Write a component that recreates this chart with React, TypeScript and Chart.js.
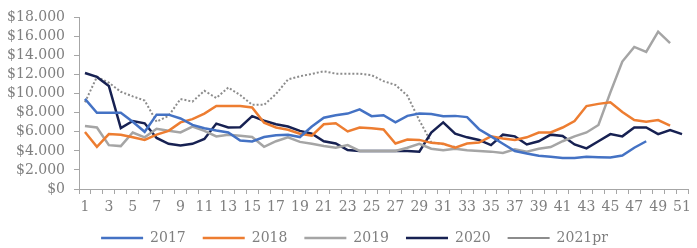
import React, { useEffect, useRef } from "react";
import { Chart, registerables } from "chart.js";

Chart.register(...registerables);

const weeks: string[] = Array.from({ length: 51 }, (_, i) => String(i + 1));

const w2017: number[] = [
  9450, 8000, 8000, 8000, 7060, 6000, 7800, 7800, 7400, 6720,
  6380, 6140, 5935, 5080, 4980, 5450, 5630, 5700, 5450, 6550,
  7470, 7740, 7910, 8360, 7640, 7740, 6990, 7670, 7910, 7870,
  7640, 7670, 7540, 6270, 5520, 4740, 3990, 3720, 3480, 3380,
  3240, 3240, 3380, 3340, 3310, 3510, 4330, 5010,
];

const w2018: number[] = [
  5970, 4430, 5760, 5700, 5420, 5150, 5700, 6100, 6990, 7330,
  7910, 8700, 8700, 8700, 8560, 6960, 6450, 6210, 5800, 5590,
  6790, 6890, 6040, 6450, 6380, 6240, 4770, 5180, 5150, 4840,
  4740, 4330, 4770, 4870, 5520, 5290, 5150, 5420, 5930, 5930,
  6450, 7130, 8700, 8930, 9100, 8080, 7230, 7060, 7230, 6650,
];

const w2019: number[] = [
  6620, 6450, 4600, 4500, 5930, 5420, 6310, 6100, 5930, 6550,
  6100, 5520, 5700, 5590, 5450, 4430, 5010, 5420, 4940, 4740,
  4500, 4330, 4600, 3990, 3990, 3990, 3990, 4330, 4740, 4230,
  4060, 4230, 4060, 3990, 3920, 3780, 4160, 3920, 4230, 4400,
  5010, 5520, 5930, 6720, 10130, 13370, 14900, 14390, 16500, 15310,
];

const w2020: number[] = [
  12170, 11760, 10810, 6380, 7130, 6890, 5350, 4740, 4570, 4740,
  5250, 6860, 6450, 6480, 7640, 7160, 6790, 6550, 6100, 5800,
  5010, 4770, 4090, 3990, 3990, 3990, 3990, 3990, 3920, 5930,
  6990, 5800, 5420, 5150, 4600, 5700, 5520, 4670, 5010, 5700,
  5560, 4670, 4260, 5010, 5760, 5520, 6450, 6450, 5760, 6170, 5760,
];

const w2021pr: number[] = [
  9100, 11760, 11150, 10200, 9720, 9280, 7060, 7670, 9440, 9170,
  10300, 9550, 10640, 9850, 8830, 8830, 9960, 11490, 11830, 12070,
  12350, 12100, 12100, 12100, 11940, 11320, 10910, 9790, 7200, 4900,
  4700, 4400,
];

const yTicks: number[] = [0, 2000, 4000, 6000, 8000, 10000, 12000, 14000, 16000, 18000];

const fmt = (v: number) => "$" + String(v).replace(/\B(?=(\d{3})+(?!\d))/g, ".");

const shiftLegend = {
  id: "shiftLegend",
  afterLayout(chart: any) {
    if (chart.legend) {
      chart.legend.left += 7;
      chart.legend.right += 7;
    }
  },
};

export default function App() {
  const ref = useRef<HTMLCanvasElement | null>(null);

  useEffect(() => {
    if (!ref.current) return;
    const axisGray = "#a6a6a6";
    const textGray = "#7f7f7f";
    const chart = new Chart(ref.current, {
      type: "line",
      data: {
        labels: weeks,
        datasets: [
          { label: "2017", data: w2017, borderColor: "#4472c4", backgroundColor: "#4472c4", borderWidth: 2.5 },
          { label: "2018", data: w2018, borderColor: "#ed7d31", backgroundColor: "#ed7d31", borderWidth: 2.5 },
          { label: "2019", data: w2019, borderColor: "#a5a5a5", backgroundColor: "#a5a5a5", borderWidth: 2.5 },
          { label: "2020", data: w2020, borderColor: "#172152", backgroundColor: "#172152", borderWidth: 2.5 },
          { label: "2021pr", data: w2021pr, borderColor: "#8c8c8c", backgroundColor: "#8c8c8c", borderWidth: 2, borderDash: [2, 2] },
        ],
      },
      plugins: [shiftLegend],
      options: {
        animation: false,
        responsive: true,
        maintainAspectRatio: false,
        elements: { point: { radius: 0, hoverRadius: 0 }, line: { tension: 0 } },
        font: { family: "'DejaVu Serif'", size: 14 },
        layout: { padding: { left: 7, right: 9, top: 13, bottom: -7 } },
        plugins: {
          tooltip: { enabled: false },
          legend: {
            position: "bottom",
            labels: {
              usePointStyle: true,
              pointStyle: "line",
              pointStyleWidth: 42,
              padding: 17,
              color: textGray,
              font: { family: "'DejaVu Serif'", size: 14 },
            },
          },
        },
        scales: {
          x: {
            type: "category",
            offset: true,
            grid: { drawOnChartArea: false, drawTicks: true, tickLength: 5, color: axisGray, offset: true },
            border: { color: axisGray, width: 1 },
            ticks: {
              autoSkip: false,
              maxRotation: 0,
              padding: 5,
              color: textGray,
              font: { family: "'DejaVu Serif'", size: 14 },
              callback: (_v: any, i: number) => (i % 2 === 0 ? weeks[i] : ""),
            },
            afterFit: (s: any) => { s.height = 25; },
          },
          y: {
            min: 0,
            max: 18000,
            afterBuildTicks: (s: any) => { s.ticks = yTicks.map((v) => ({ value: v })); },
            grid: { drawOnChartArea: false, drawTicks: true, tickLength: 5, color: axisGray },
            border: { color: axisGray, width: 1 },
            ticks: {
              autoSkip: false,
              padding: 9,
              color: textGray,
              font: { family: "'DejaVu Serif'", size: 14 },
              callback: (v: any) => fmt(Number(v)),
            },
            afterFit: (s: any) => { s.width = 72; },
          },
        },
      },
    });
    return () => chart.destroy();
  }, []);

  return (
    <div style={{ position: "fixed", left: 0, top: 0, width: 697, height: 248, background: "#fff" }}>
      <canvas ref={ref} />
    </div>
  );
}
